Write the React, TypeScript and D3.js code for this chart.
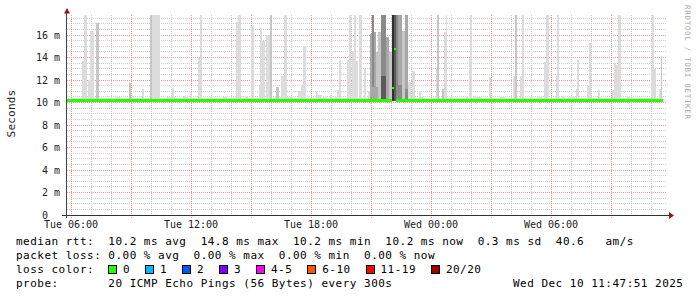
import React from "react";
import * as d3 from "d3";

// ---------- data ----------
const START = new Date(2025, 11, 9, 5, 47, 51);
const END = new Date(2025, 11, 10, 11, 47, 51);

const yTickValues = [0, 2, 4, 6, 8, 10, 12, 14, 16];
const yTickLabels = ["0", "2 m", "4 m", "6 m", "8 m", "10 m", "12 m", "14 m", "16 m"];

// hours since start: [from, to, top (ms), density 1..6]
const smokeColumns: [number, number, number, number][] = [
  [0.75, 0.85, 13.7, 1], [0.85, 1.0, 20, 1], [1.05, 1.15, 12.0, 1], [1.15, 1.35, 16.4, 1],
  [1.45, 1.6, 17.1, 2], [3.1, 3.2, 11.7, 2], [3.75, 3.85, 11.2, 1], [4.15, 4.25, 20, 2],
  [4.25, 4.65, 20, 1], [5.25, 5.35, 11.3, 1], [5.85, 5.95, 10.6, 1], [6.15, 6.25, 10.9, 1],
  [6.55, 6.65, 14.0, 1], [6.65, 6.75, 20, 1], [8.45, 8.55, 17.2, 1], [8.55, 8.7, 20, 1],
  [9.2, 9.35, 16.8, 1], [9.6, 9.7, 11.6, 1], [9.65, 9.75, 16.6, 1], [9.75, 9.9, 15.5, 1],
  [9.95, 10.15, 16.0, 1], [10.15, 10.25, 20, 2], [10.45, 10.6, 11.4, 2], [10.7, 10.85, 12.4, 1],
  [10.85, 11.0, 20, 1], [11.55, 11.75, 11.0, 1], [11.7, 11.95, 11.6, 1], [11.8, 11.95, 15.0, 1],
  [12.45, 12.55, 11.0, 1], [12.55, 12.7, 10.6, 1], [13.15, 13.25, 10.7, 1], [13.5, 13.6, 11.1, 1],
  [13.6, 13.7, 13.8, 1], [14.0, 14.1, 13.8, 1], [14.1, 14.2, 20, 1], [14.25, 14.35, 14.6, 1],
  [14.35, 14.45, 20, 1], [14.45, 14.55, 13.7, 1], [14.6, 14.75, 20, 1], [14.85, 14.95, 13.0, 1],
  [15.05, 15.15, 11.0, 1],
  [15.15, 15.25, 16.1, 3], [15.25, 15.35, 20, 4], [15.35, 15.45, 16.3, 3], [15.45, 15.55, 14.5, 2],
  [15.55, 15.7, 16.3, 2], [15.7, 15.95, 20, 4], [15.95, 16.1, 15.8, 3], [16.1, 16.25, 14.5, 2],
  [16.45, 16.55, 20, 4], [16.55, 16.75, 20, 3], [16.75, 16.9, 16.4, 2], [16.9, 17.05, 20, 3],
  [17.05, 17.2, 11.8, 1],
  [15.15, 15.55, 11.4, 3], [15.7, 15.95, 12.4, 5], [16.45, 16.75, 11.6, 4], [16.9, 17.05, 11.2, 4],
  [16.25, 16.35, 20, 6], [16.35, 16.45, 20, 5],
  [17.25, 17.4, 12.8, 1], [17.6, 17.7, 11.0, 1], [18.45, 18.5, 13.0, 1], [18.5, 18.6, 20, 2],
  [18.75, 18.9, 11.2, 2], [18.85, 19.0, 16.3, 1], [18.95, 19.0, 20, 1], [19.95, 20.05, 10.5, 1],
  [20.1, 20.2, 14.0, 1], [20.15, 20.25, 20, 1], [21.1, 21.2, 12.3, 1], [22.3, 22.4, 12.4, 1],
  [22.4, 22.5, 20, 2], [22.65, 22.75, 12.4, 1], [22.75, 22.85, 20, 1], [23.85, 23.95, 13.6, 1],
  [23.95, 24.1, 20, 1], [24.45, 24.5, 12.4, 1], [24.5, 24.6, 20, 1], [24.75, 24.85, 10.6, 1],
  [25.45, 25.55, 11.2, 1], [25.5, 25.6, 13.8, 1], [26.0, 26.1, 11.5, 1], [26.1, 26.2, 15.3, 1],
  [26.55, 26.65, 11.1, 1], [27.25, 27.35, 11.1, 1], [27.35, 27.45, 13.5, 1], [27.45, 27.55, 13.3, 1],
  [27.55, 27.7, 20, 1], [29.2, 29.45, 13.0, 1], [29.25, 29.35, 20, 1], [29.6, 29.7, 11.2, 1],
  [29.7, 29.75, 14.1, 2],
];

// small smoke bumps just above the median: [from, to, top]
const smokeBumps: [number, number, number][] = [
  [0.15, 0.5, 10.35], [2.05, 2.3, 10.4], [2.4, 2.65, 10.45], [3.5, 4.0, 10.4], [5.0, 5.4, 10.45],
  [5.8, 6.05, 10.5], [7.0, 7.3, 10.4], [7.8, 8.0, 10.45], [8.9, 9.05, 10.5], [10.65, 11.3, 10.45],
  [11.55, 11.8, 10.6], [12.5, 12.75, 10.7], [12.8, 13.0, 10.5], [13.4, 13.55, 10.5], [14.15, 14.4, 10.6],
  [16.65, 17.0, 10.8], [17.65, 17.8, 10.6], [20.3, 20.75, 10.45], [21.65, 21.9, 10.45],
  [23.5, 23.75, 10.45], [24.75, 24.9, 10.5], [25.05, 25.4, 10.45], [28.0, 28.15, 10.5], [28.65, 28.95, 10.4],
];

// median rtt: [from, to, ms]
const medianSegments: [number, number, number][] = [
  [0, 16.25, 10.2], [16.25, 16.35, 11.3], [16.35, 16.45, 14.8], [16.45, 29.8, 10.2],
];

const legendLines = [
  "median rtt:  10.2 ms avg  14.8 ms max  10.2 ms min  10.2 ms now  0.3 ms sd  40.6   am/s",
  "packet loss: 0.00 % avg  0.00 % max  0.00 % min  0.00 % now",
  "loss color:",
  "probe:       20 ICMP Echo Pings (56 Bytes) every 300s",
];
const lossLabels = ["0", "1", "2", "3", "4-5", "6-10", "11-19", "20/20"];
const lossColors = ["#26ff00", "#00b8ff", "#0059ff", "#7e00ff", "#ff00ff", "#ff5500", "#ff0000", "#a10000"];
const stampText = "Wed Dec 10 11:47:51 2025";

const densityGray = ["#dcdcdc", "#c6c6c6", "#a8a8a8", "#8a8a8a", "#5a5a5a", "#303030"];

// ---------- layout ----------
const X0 = 67, X1 = 667, Y0 = 215, Y1 = 15;
const MONO = "'DejaVu Sans Mono', monospace";
const CHAR = 7.1;

export default function App() {
  const x = d3.scaleTime().domain([START, END]).range([X0, X1]);
  const y = d3.scaleLinear().domain([0, (Y0 - Y1) / 11.25]).range([Y0, Y1]);
  const t = (h: number) => new Date(START.getTime() + h * 3600e3);
  const px = (h: number) => Math.round(x(t(h)));
  const half = (v: number) => Math.round(v - 0.5) + 0.5;

  const hours = x.ticks(d3.timeHour.every(1)!);
  const fmt = d3.timeFormat("%a %H:%M");
  const minorY = d3.range(0, 18, 0.5).filter((v) => y(v) >= Y1);
  const floor = 10.15;

  let cursor = 108.3;
  const lossItems = lossLabels.map((lab, i) => {
    const bx = cursor;
    const lx = bx + 14.7;
    cursor = lx + lab.length * CHAR + 15.2;
    return { lab, bx, lx, color: lossColors[i] };
  });

  return (
    <svg width={697} height={297} style={{ position: "absolute", left: 0, top: 0, background: "#fff" }}>
      <defs>
        <clipPath id="plot">
          <rect x={X0} y={Y1} width={X1 - X0} height={Y0 - Y1} />
        </clipPath>
      </defs>
      <rect x={0} y={0} width={697} height={297} fill="#fff" />
      {minorY.filter((v) => v % 2 !== 0).map((v) => (
        <line key={"mh" + v} x1={X0} x2={X1} y1={half(y(v))} y2={half(y(v))} stroke="#cfcfcf" strokeDasharray="1,1" />
      ))}
      {hours.filter((d) => d.getHours() % 3 !== 0).map((d) => (
        <line key={"mv" + +d} x1={half(x(d))} x2={half(x(d))} y1={Y1} y2={Y0 + 2} stroke="#cfcfcf" strokeDasharray="1,1" />
      ))}
      {yTickValues.filter((v) => v > 0).map((v) => (
        <line key={"Mh" + v} x1={X0} x2={X1} y1={half(y(v))} y2={half(y(v))} stroke="#ec9a9a" strokeDasharray="1,1" />
      ))}
      {hours.filter((d) => d.getHours() % 3 === 0).map((d) => (
        <line key={"Mv" + +d} x1={half(x(d))} x2={half(x(d))} y1={Y1} y2={Y0 + 3} stroke="#ec9a9a" strokeDasharray="1,1" />
      ))}

      <g clipPath="url(#plot)" shapeRendering="crispEdges">
        <rect x={px(0)} width={px(29.8) - px(0)} y={y(10.38)} height={y(floor) - y(10.38)} fill="#e4e4e4" />
        {smokeBumps.map(([a, b, top], i) => (
          <rect key={"b" + i} x={px(a)} width={Math.max(1, px(b) - px(a))} y={y(top)} height={y(floor) - y(top)} fill="#dedede" />
        ))}
        {smokeColumns.map(([a, b, top, d], i) => (
          <rect key={"s" + i} x={px(a)} width={Math.max(1, px(b) - px(a))} y={y(top)} height={y(floor) - y(top)} fill={densityGray[d - 1]} />
        ))}
        {medianSegments.map(([a, b, v], i) => {
          const w = px(b) - px(a);
          const dot = w <= 2;
          const h = dot ? 2 : 3;
          return (
            <rect key={"m" + i} x={px(a)} width={w} y={Math.round(y(v) - h / 2)} height={h} fill={lossColors[0]} />
          );
        })}
      </g>

      <line x1={62} x2={669} y1={215.5} y2={215.5} stroke="#333" shapeRendering="crispEdges" />
      <line x1={66.5} x2={66.5} y1={12} y2={218} stroke="#444" shapeRendering="crispEdges" />
      <polygon points="64,13.5 70,13.5 67,8" fill="#8b1a1a" />
      <polygon points="669,212 669,219 674,215.5" fill="#8b1a1a" />

      {yTickValues.map((v, i) => (
        <text key={"yl" + v} x={v === 0 ? 48 : 60} y={y(v) + 3.6} textAnchor="end" fontFamily={MONO} fontSize={10} fill="#222">
          {yTickLabels[i]}
        </text>
      ))}
      {hours.filter((d) => d.getHours() % 6 === 0).map((d) => (
        <text key={"xl" + +d} x={x(d)} y={228} textAnchor="middle" fontFamily={MONO} fontSize={10} fill="#222">
          {fmt(d)}
        </text>
      ))}

      <text transform="translate(15,113.5) rotate(-90)" textAnchor="middle" fontFamily={MONO} fontSize={11} letterSpacing={0.2} fill="#222">
        Seconds
      </text>
      <text transform="translate(685,5) rotate(90)" fontFamily={MONO} fontSize={7.5} letterSpacing={0.7} fill="#aaa">
        RRDTOOL / TOBI OETIKER
      </text>

      {legendLines.map((s, i) => (
        <text key={"lg" + i} x={16} y={245 + i * 14} fontFamily={MONO} fontSize={11} letterSpacing={0.48} fill="#000" style={{ whiteSpace: "pre" }} xmlSpace="preserve">
          {s}
        </text>
      ))}
      {lossItems.map((it) => (
        <g key={"li" + it.lab}>
          <rect x={Math.round(it.bx) + 0.5} y={265.5} width={8} height={8} fill={it.color} stroke="#000" />
          <text x={it.lx} y={273} fontFamily={MONO} fontSize={11} letterSpacing={0.48} fill="#000">
            {it.lab}
          </text>
        </g>
      ))}
      <text x={513} y={287} fontFamily={MONO} fontSize={11} letterSpacing={0.48} fill="#000">
        {stampText}
      </text>
    </svg>
  );
}
